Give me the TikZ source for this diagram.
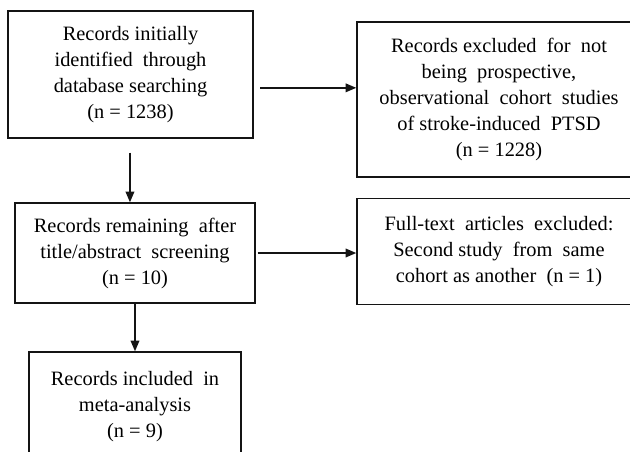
\documentclass[tikz,border=0pt]{standalone}
\usepackage{fontspec}
\setmainfont{Liberation Serif}
\usepackage{tikz}
\usetikzlibrary{positioning,calc,arrows.meta}
\usepackage{xcolor}
\definecolor{boxline}{RGB}{20,20,20}

\begin{document}
\begin{tikzpicture}[x=0.75pt, y=-0.75pt,
    box/.style={draw=boxline, line width=1.1pt, align=center, inner sep=0pt,
        font=\fontsize{15.3}{19.5}\selectfont}]

        \useasboundingbox (0,0) rectangle (630,451);

        \node[box, minimum width=245*0.75pt, minimum height=127*0.75pt] (Identified) at (130.5,74.5)
            {Records initially\\identified\ \ through\\database searching\\(n = 1238)};
        \node[box, minimum width=284*0.75pt, minimum height=155*0.75pt] (Excluded) at (499,99.5)
            {Records excluded\ \ for\ \ not\\being\ \ prospective,\\observational\ \ cohort\ \ studies\\of stroke-induced\ \ PTSD\\(n = 1228)};
        \node[box, minimum width=240*0.75pt, minimum height=100*0.75pt] (Screened) at (135,253)
            {Records remaining\ \ after\\title/abstract\ \ screening\\(n = 10)};
        \node[box, minimum width=284*0.75pt, minimum height=106*0.75pt] (Fulltext) at (499,251.5)
            {Full-text\ \ articles\ \ excluded:\\Second study\ \ from\ \ same\\cohort as another\ \ (n = 1)};
        \node[box, minimum width=212*0.75pt, minimum height=110*0.75pt] (Included) at (135,407)
            {Records included\ \ in\\meta-analysis\\(n = 9)};

        \begin{scope}[
            every path/.style={-{Triangle[length=8pt,width=6.5pt]}, draw=boxline, line width=1.1pt}
        ]
            \path[shorten <=5pt] ([yshift=-10pt]Identified.east) to ([yshift=-10pt]Identified.east -| Excluded.west);
            \path[shorten <=10.5pt] ([xshift=-0.4pt]Identified.south) to ([xshift=-0.4pt]Identified.south |- Screened.north);
            \path[shorten <=1.5pt] (Screened.east) to (Screened.east -| Fulltext.west);
            \path (Screened.south) to (Included.north);
        \end{scope}

    \end{tikzpicture}
\end{document}
